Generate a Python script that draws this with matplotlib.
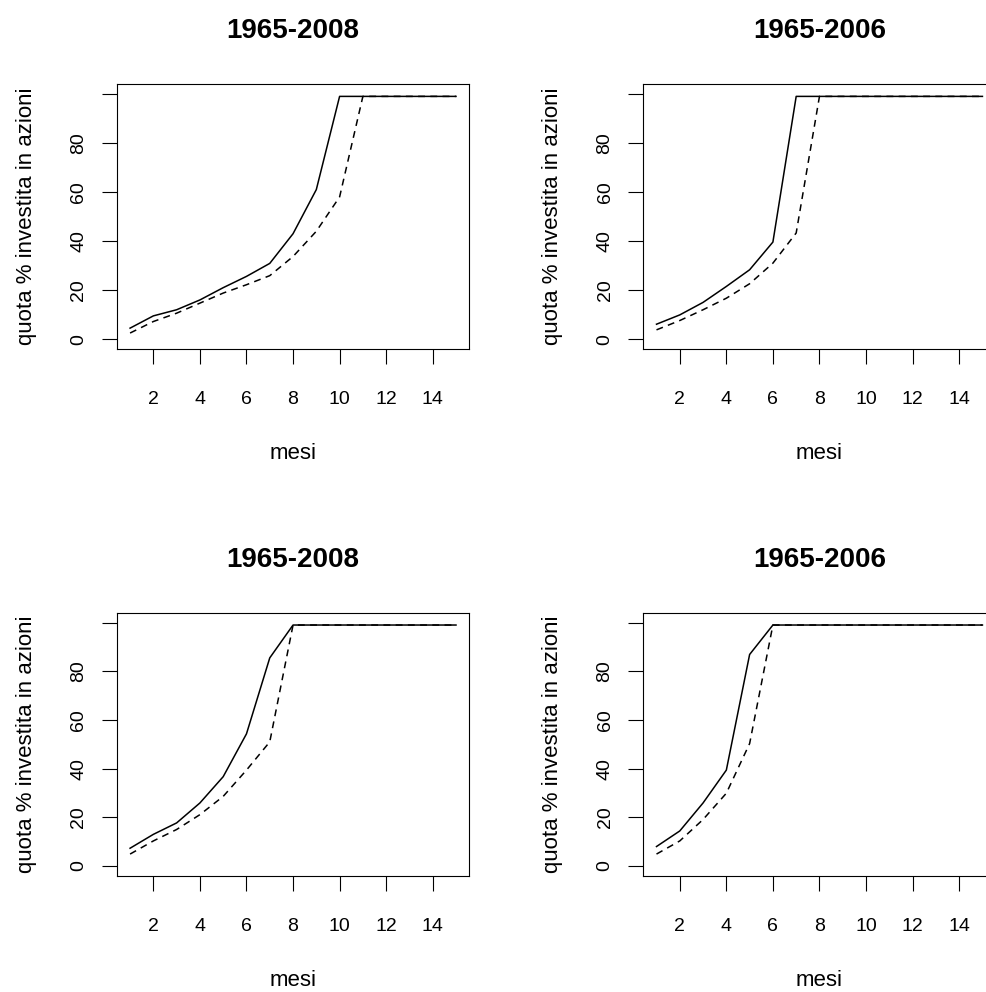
import matplotlib
matplotlib.use('Agg')
import matplotlib.pyplot as plt

plt.rcParams['font.family'] = ['Liberation Sans', 'DejaVu Sans']

mesi = list(range(1, 16))

# top row
a08_solid = [4.5, 9.5, 12, 16, 21, 25.6, 30.9, 43, 61, 99, 99, 99, 99, 99, 99]
a08_dash = [2.5, 7.2, 10.6, 14.7, 18.8, 22.2, 25.9, 33.7, 44, 58, 99, 99, 99, 99, 99]
a06_solid = [6.1, 9.9, 15, 21.5, 28.3, 39.6, 99, 99, 99, 99, 99, 99, 99, 99, 99]
a06_dash = [3.8, 7.6, 12, 16.7, 22.6, 31, 43.3, 99, 99, 99, 99, 99, 99, 99, 99]

# bottom row
b08_solid = [7.3, 13, 17.7, 25.9, 36.7, 54.3, 85.5, 99, 99, 99, 99, 99, 99, 99, 99]
b08_dash = [4.9, 10.3, 15, 21.1, 28.6, 39.4, 51, 99, 99, 99, 99, 99, 99, 99, 99]
b06_solid = [8, 14.4, 25.9, 39.4, 86.9, 99, 99, 99, 99, 99, 99, 99, 99, 99, 99]
b06_dash = [4.9, 10.3, 19.1, 29.9, 50.3, 99, 99, 99, 99, 99, 99, 99, 99, 99, 99]

xticks = [2, 4, 6, 8, 10, 12, 14]
yticks = [0, 20, 40, 60, 80, 100]
ylabels = ['0', '20', '40', '60', '80', '']

panels = [
    ([0.1187, 0.6482, 0.357, 0.267], '1965-2008', a08_solid, a08_dash),
    ([0.6526, 0.6482, 0.357, 0.267], '1965-2006', a06_solid, a06_dash),
    ([0.1187, 0.1172, 0.357, 0.265], '1965-2008', b08_solid, b08_dash),
    ([0.6526, 0.1172, 0.357, 0.265], '1965-2006', b06_solid, b06_dash),
]

fig = plt.figure(figsize=(9.86, 9.92), dpi=100)
for pos, title, solid, dash in panels:
    ax = fig.add_axes(pos)
    ax.plot(mesi, solid, color='black', lw=1.1)
    ax.plot(mesi, dash, color='black', lw=1.1, ls=(0, (4.5, 3.5)))
    ax.set_xlim(0.44, 15.56)
    ax.set_ylim(-4, 104)
    ax.set_xticks(xticks)
    ax.set_yticks(yticks)
    ax.set_yticklabels(ylabels, rotation=90, va='center')
    ax.tick_params(direction='out', length=10.5, width=0.8, labelsize=14,
                   colors='black')
    ax.tick_params(axis='x', pad=20)
    ax.tick_params(axis='y', pad=11)
    for sp in ax.spines.values():
        sp.set_linewidth(0.8)
    ax.set_xlabel('mesi', fontsize=16, labelpad=25)
    ax.set_ylabel('quota % investita in azioni', fontsize=16, labelpad=24)
    ax.set_title(title, fontsize=20, fontweight='bold', pad=33)

fig.savefig('out.png', dpi=100)
